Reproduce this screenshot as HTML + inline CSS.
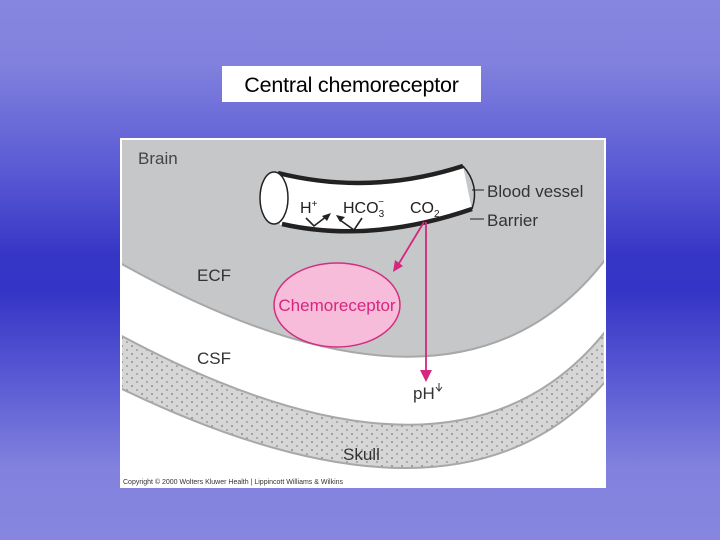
<!DOCTYPE html>
<html><head><style>
html,body{margin:0;padding:0}
body{width:720px;height:540px;position:relative;overflow:hidden;
background:linear-gradient(to bottom,#8686e0 0px,#8282de 60px,#5a5ad4 170px,#3636c6 255px,#3434c6 290px,#5a5ad4 380px,#8282de 470px,#8686e0 540px);
font-family:"Liberation Sans",sans-serif}
.title{position:absolute;left:222px;top:66px;width:259px;height:36px;background:#fff;font-size:21.5px;line-height:38px;text-align:center;color:#000;letter-spacing:-0.2px}
svg{position:absolute;left:0;top:0}
</style></head><body>
<div class="title">Central chemoreceptor</div>
<svg width="720" height="540" viewBox="0 0 720 540">
<defs>
<pattern id="dots" width="10" height="8" patternUnits="userSpaceOnUse">
<rect width="10" height="8" fill="#d6d6d6"/>
<circle cx="2" cy="2" r="0.9" fill="#7a7a7a"/><circle cx="7" cy="6" r="0.9" fill="#8a8a8a"/>
</pattern>
<clipPath id="pc"><rect x="122" y="140" width="482" height="346"/></clipPath>
</defs>
<rect x="120" y="138" width="486" height="350" fill="#fff"/>
<g clip-path="url(#pc)">
<path d="M110,140 L615,140 L615,258 L605,260 Q457,452 120,263 L110,258 Z" fill="#c6c7c9" stroke="none"/>
<path d="M120,263 Q457,452 605,260" fill="none" stroke="#a8a8a8" stroke-width="2"/>
<path d="M120,335 Q457,516 605,332 L605,382 Q457,551 120,388 Z" fill="url(#dots)" stroke="#a8a8a8" stroke-width="2"/>
</g>
<!-- vessel -->
<path d="M276,172 Q370,195 463,166 L472,210 Q370,245 280,225 Z" fill="#fff"/>
<path d="M278,173 Q370,196 463,166" fill="none" stroke="#222" stroke-width="4.5"/>
<path d="M282,224 Q370,244 472,209" fill="none" stroke="#222" stroke-width="4.5"/>
<path d="M463,166 Q480,185 472,209" fill="none" stroke="#222" stroke-width="1.5"/>
<ellipse cx="274" cy="198" rx="14" ry="26" fill="#fff" stroke="#222" stroke-width="1.5"/>
<text x="300" y="213" font-size="16" fill="#222">H<tspan font-size="10" dy="-6">+</tspan></text>
<text x="343" y="213" font-size="16" fill="#222">HCO<tspan font-size="10" dy="4">3</tspan><tspan font-size="10" dx="-6" dy="-12">−</tspan></text>
<text x="410" y="213" font-size="16" fill="#222">CO<tspan font-size="10" dy="4">2</tspan></text>
<g stroke="#222" stroke-width="1.6" fill="none"><path d="M306,218 L314,226 L327,216"/><path d="M362,218 L354,230 L340,220"/></g>
<path d="M331,213 L322,216 L327,221 Z" fill="#222"/><path d="M336,215 L345,217 L340,222 Z" fill="#222"/>
<path d="M472,190 L484,190" stroke="#222" stroke-width="1"/>
<path d="M470,219 L484,219" stroke="#222" stroke-width="1"/>
<text x="487" y="197" font-size="17" fill="#333">Blood vessel</text>
<text x="487" y="226" font-size="17" fill="#333">Barrier</text>
<text x="138" y="164" font-size="17" fill="#444">Brain</text>
<text x="197" y="281" font-size="17" fill="#333">ECF</text>
<text x="197" y="364" font-size="17" fill="#333">CSF</text>
<text x="343" y="460" font-size="17" fill="#333">Skull</text>
<text x="413" y="399" font-size="17" fill="#333">pH</text>
<path d="M439,383 L439,390 M436,387 L439,391 L442,387" stroke="#333" stroke-width="1" fill="none"/>
<ellipse cx="337" cy="305" rx="63" ry="42" fill="#f6bcd9" stroke="#d0307f" stroke-width="1.5"/>
<text x="337" y="311" font-size="17" fill="#d6267f" text-anchor="middle">Chemoreceptor</text>
<g stroke="#d6267f" stroke-width="1.8" fill="none"><path d="M424,222 L398,265"/><path d="M426,222 L426,372"/></g>
<path d="M393,272 L395,260 L403,266 Z" fill="#d6267f"/>
<path d="M420,370 L432,370 L426,382 Z" fill="#d6267f"/>
<text x="123" y="484" font-size="7" fill="#333">Copyright © 2000 Wolters Kluwer Health | Lippincott Williams &amp; Wilkins</text>
</svg>
</body></html>
